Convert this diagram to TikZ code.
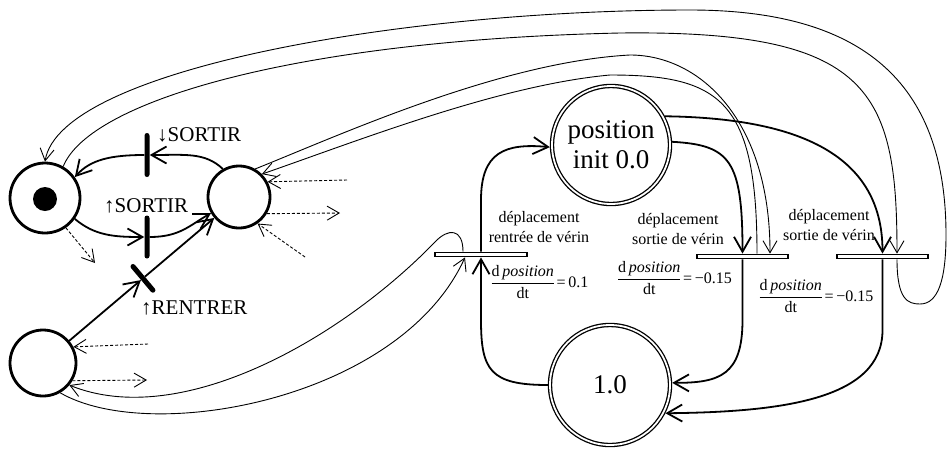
\documentclass[tikz,border=0pt]{standalone}
\usepackage{fontspec}
\setmainfont{Liberation Serif}
\usetikzlibrary{arrows.meta,calc}
\newcommand\dfr{{\setlength\arrayrulewidth{0.8pt}\renewcommand\arraystretch{1.05}\begin{tabular}{@{}c@{}}d\,\textit{position}\\\hline dt\end{tabular}}}
\begin{document}
\begin{tikzpicture}[x=1pt,y=-1pt,
  place/.style={circle,draw,line width=2.8pt,inner sep=0pt},
  cplace/.style={circle,draw,double,line width=1.3pt,double distance=1.8pt,inner sep=0pt,outer sep=2.2pt,align=center},
  tbar/.style={fill=black,inner sep=0pt,minimum width=5pt,rounded corners=2.5pt},
  tbox/.style={draw,line width=1.8pt,fill=white,inner sep=0pt,minimum width=92pt,minimum height=4pt},
  thk/.style={line width=1.8pt,-{Straight Barb[length=15pt,width=17pt]}},
  thn/.style={line width=0.9pt,-{Straight Barb[length=12pt,width=14pt]}},
  dsh/.style={thn,dash pattern=on 3pt off 2pt},
  lbl/.style={font=\fontsize{21}{24}\selectfont,anchor=west,inner sep=0pt},
  small/.style={font=\fontsize{16}{20}\selectfont,align=center,inner sep=0pt},
  big/.style={font=\fontsize{27}{30}\selectfont},
]
\useasboundingbox (0,0) rectangle (947,448);

% left net
\node[place,minimum size=70pt] (P1) at (45,198) {};
\node[circle,fill,minimum size=24pt,inner sep=0pt] (tok) at (45,199) {};
\node[place,minimum size=62pt] (P2) at (239,197) {};
\node[place,minimum size=66pt] (P3) at (43,363) {};
\node[tbar,minimum height=44pt] (Ta) at (147,155) {};
\node[tbar,minimum height=43pt] (Tb) at (147,237) {};
\node[tbar,minimum height=36pt,rotate=40] (Tc) at ($(P3)!0.51!(P2)$) {};
\node[lbl] (la) at (157,135) {↓SORTIR};
\node[lbl] (lb) at (104,206) {↑SORTIR};
\node[lbl] (lc) at (141,308) {↑RENTRER};

\draw[thk] (P2.120) .. controls (205,152) and (185,155) .. (Ta);
\draw[thk] (Ta) .. controls (110,155) and (90,160) .. (P1.35);
\draw[thk] (P1.-35) .. controls (95,236) and (115,237) .. (Tb);
\draw[thk] (Tb) .. controls (180,237) and (190,225) .. (P2.210);
\draw[thk] (P3) -- (Tc);
\draw[thk] (Tc) -- (P2);

% dashed stubs
\coordinate (d1) at (95,263);
\coordinate (d2) at (347,180);
\coordinate (d3) at (340,213);
\coordinate (d4) at (305,257);
\coordinate (d5) at (148,344);
\coordinate (d6) at (147,380);
\draw[dsh] (P1.-55) -- (d1);
\draw[dsh] (d2) -- (P2.28);
\draw[dsh] (P2.-31) -- (d3);
\draw[dsh] (d4) -- (P2.-55);
\draw[dsh] (d5) -- (P3.28);
\draw[dsh] (P3.-31) -- (d6);

% right net
\node[cplace,big,minimum size=118pt] (Q1) at (611,145) {position\\init 0.0};
\node[cplace,big,minimum size=120pt] (Q2) at (610,385) {1.0};
\node[tbox] (T1) at (481,254.5) {};
\node[tbox,minimum width=91pt] (T2) at (742.5,256.5) {};
\node[tbox,minimum width=91pt] (T3) at (882.5,256.5) {};

\node[small] (l1) at (539,227) {déplacement\\rentrée de vérin};
\node[small] (l2) at (678,229) {déplacement\\sortie de vérin};
\node[small] (l3) at (829,225) {déplacement\\sortie de vérin};
\node[small] (f1) at (540,283) {\dfr\,=\,0.1};
\node[small] (f2) at (675,279) {\dfr\,=\,−0.15};
\node[small] (f3) at (816.5,297) {\dfr\,=\,−0.15};

\draw[thk] (Q2.west) .. controls (490,385) and (481,370) .. (481,320) -- (T1.south);
\draw[thk] (T1.north) -- (481,200) .. controls (481,152) and (505,143) .. (Q1.182);
\draw[thk] (Q1.3) .. controls (730,145) and (742.5,160) .. (T2.north);
\draw[thk] (T2.south) -- (742.5,320) .. controls (742.5,375) and (720,383) .. (Q2.2);
\draw[thk] (Q1.28) .. controls (790,118) and (882.5,150) .. (T3.north);
\draw[thk] (T3.south) -- (882.5,330) .. controls (882.5,400) and (780,412) .. (Q2.-27);

% long thin arcs
\draw[thn] ($(T3.south)+(14.5,0)$) .. controls (897,300) and (908,304) .. (920,304)
   .. controls (938,304) and (946,280) .. (946,235)
   .. controls (946,80) and (860,10) .. (690,10)
   .. controls (400,10) and (60,70) .. (P1.north);
\draw[thn] (P1.60) .. controls (90,100) and (300,40) .. (620,33)
   .. controls (870,30) and (897,90) .. ($(T3.north)+(14.5,0)$);
\draw[thn] (P2.60) .. controls (340,135) and (500,62) .. (630,55)
   .. controls (700,55) and (770,120) .. ($(T2.north)+(27.5,0)$);
\draw[thn] ($(T2.north)+(14.5,0)$) .. controls (757,100) and (720,75) .. (610,75)
   .. controls (500,85) and (360,140) .. (P2.45);
\draw[thn] (P3.-60) .. controls (150,445) and (400,400) .. ($(T1.south)+(-16,0)$);
\draw[thn] ($(T1.north)+(-18,0)$) .. controls (463,228) and (448,228) .. (435,242)
   .. controls (340,340) and (180,430) .. (P3.-40);
\end{tikzpicture}
\end{document}
